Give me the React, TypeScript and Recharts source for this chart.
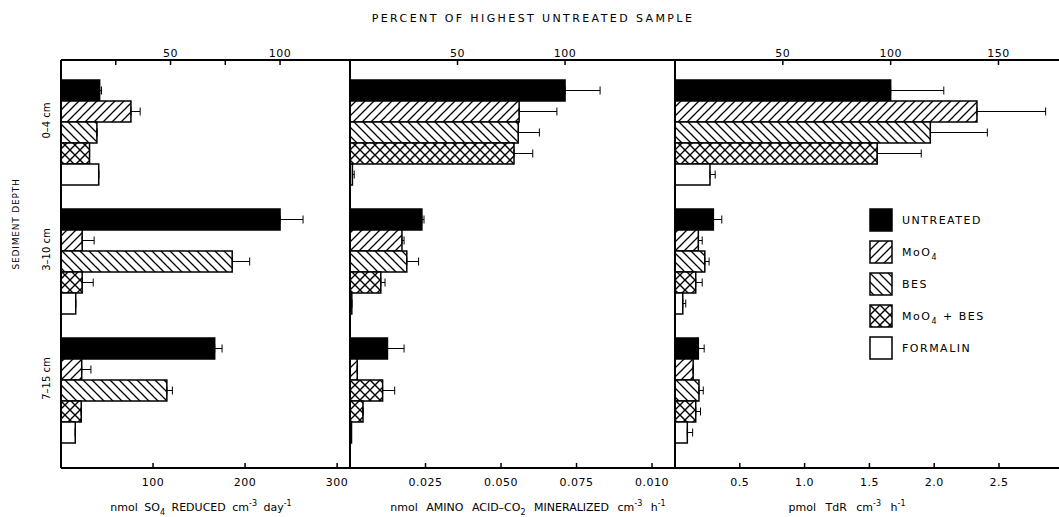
import React from 'react';
import { BarChart, Bar, XAxis, YAxis, ErrorBar, Cell } from 'recharts';

// depth categories
const DEPTHS = ['0–4 cm', '3–10 cm', '7–15 cm'];

// treatments (order = bar order inside a depth group)
const TREATMENTS = ['untreated', 'moo4', 'bes', 'mooBes', 'formalin'];

// panel 1: nmol SO4 reduced cm-3 day-1
const SO4_UNTREATED = [42, 238, 167];
const SO4_MOO4 = [76, 23, 22.5];
const SO4_BES = [39, 186, 115];
const SO4_MOO4_BES = [31, 23, 22];
const SO4_FORMALIN = [41, 16, 15.5];
const SO4_UNTREATED_ERR = [2, 25, 8];
const SO4_MOO4_ERR = [10, 13, 10];
const SO4_BES_ERR = [0, 19, 6];
const SO4_MOO4_BES_ERR = [0, 12, 0];
const SO4_FORMALIN_ERR = [0, 0, 0];

// panel 2: nmol amino acid-CO2 mineralized cm-3 h-1
const AA_UNTREATED = [0.0712, 0.0238, 0.0124];
const AA_MOO4 = [0.056, 0.0172, 0.0024];
const AA_BES = [0.0557, 0.0188, 0.0108];
const AA_MOO4_BES = [0.0543, 0.0102, 0.0043];
const AA_FORMALIN = [0.0008, 0.0006, 0.0005];
const AA_UNTREATED_ERR = [0.0116, 0.0007, 0.0055];
const AA_MOO4_ERR = [0.0125, 0.0007, 0];
const AA_BES_ERR = [0.007, 0.0039, 0.004];
const AA_MOO4_BES_ERR = [0.0062, 0.0014, 0];
const AA_FORMALIN_ERR = [0.0006, 0, 0];

// panel 3: pmol TdR cm-3 h-1
const TDR_UNTREATED = [1.664, 0.296, 0.18];
const TDR_MOO4 = [2.33, 0.18, 0.14];
const TDR_BES = [1.97, 0.23, 0.185];
const TDR_MOO4_BES = [1.56, 0.16, 0.16];
const TDR_FORMALIN = [0.27, 0.06, 0.095];
const TDR_UNTREATED_ERR = [0.41, 0.065, 0.045];
const TDR_MOO4_ERR = [0.53, 0.03, 0];
const TDR_BES_ERR = [0.44, 0.033, 0.033];
const TDR_MOO4_BES_ERR = [0.34, 0.05, 0.037];
const TDR_FORMALIN_ERR = [0.04, 0.023, 0.041];

// tick values and labels
const SO4_TICKS = [100, 200, 300];
const SO4_TICK_LABELS = ['100', '200', '300'];
const AA_TICKS = [0.025, 0.05, 0.075, 0.1];
const AA_TICK_LABELS = ['0.025', '0.050', '0.075', '0.010'];
const TDR_TICKS = [0.5, 1, 1.5, 2, 2.5];
const TDR_TICK_LABELS = ['0.5', '1.0', '1.5', '2.0', '2.5'];
const PCT_TICKS_1 = [25, 50, 75, 100];
const PCT_LABELS_1 = ['', '50', '', '100'];
const PCT_TICKS_2 = [50, 100];
const PCT_LABELS_2 = ['50', '100'];
const PCT_TICKS_3 = [50, 100, 150];
const PCT_LABELS_3 = ['50', '100', '150'];

const FILLS: Record<string, string> = {
  untreated: '#000',
  moo4: 'url(#hatchFwd)',
  bes: 'url(#hatchBack)',
  mooBes: 'url(#crossHatch)',
  formalin: '#fff',
};

const FONT = '"DejaVu Sans", sans-serif';

function buildRows(vals: number[][], errs: number[][]) {
  return DEPTHS.map((depth, i) => {
    const row: Record<string, any> = { depth };
    TREATMENTS.forEach((t, j) => {
      row[t] = vals[j][i];
      row[t + 'Err'] = [0, errs[j][i]];
    });
    return row;
  });
}

const PANELS = [
  {
    id: 'so4',
    left: 0,
    width: 360,
    yWidth: 61,
    marginLeft: 0,
    marginRight: 10,
    absMax: 314,
    absTicks: SO4_TICKS,
    absLabels: SO4_TICK_LABELS,
    pctTicks: PCT_TICKS_1,
    pctLabels: PCT_LABELS_1,
    maxUntreated: Math.max(...SO4_UNTREATED),
    rows: buildRows(
      [SO4_UNTREATED, SO4_MOO4, SO4_BES, SO4_MOO4_BES, SO4_FORMALIN],
      [SO4_UNTREATED_ERR, SO4_MOO4_ERR, SO4_BES_ERR, SO4_MOO4_BES_ERR, SO4_FORMALIN_ERR]
    ),
    showDepths: true,
  },
  {
    id: 'aa',
    left: 340,
    width: 345,
    yWidth: 10,
    marginLeft: 0,
    marginRight: 10,
    absMax: 0.1076,
    absTicks: AA_TICKS,
    absLabels: AA_TICK_LABELS,
    pctTicks: PCT_TICKS_2,
    pctLabels: PCT_LABELS_2,
    maxUntreated: Math.max(...AA_UNTREATED),
    rows: buildRows(
      [AA_UNTREATED, AA_MOO4, AA_BES, AA_MOO4_BES, AA_FORMALIN],
      [AA_UNTREATED_ERR, AA_MOO4_ERR, AA_BES_ERR, AA_MOO4_BES_ERR, AA_FORMALIN_ERR]
    ),
    showDepths: false,
    // the 7-15 cm BES bar is printed cross-hatched in the original
    overrides: { bes: { 2: 'url(#crossHatch)' } } as Record<string, Record<number, string>>,
  },
  {
    id: 'tdr',
    left: 665,
    width: 394,
    yWidth: 10,
    marginLeft: 0,
    marginRight: 0,
    absMax: 2.963,
    absTicks: TDR_TICKS,
    absLabels: TDR_TICK_LABELS,
    pctTicks: PCT_TICKS_3,
    pctLabels: PCT_LABELS_3,
    maxUntreated: Math.max(...TDR_UNTREATED),
    rows: buildRows(
      [TDR_UNTREATED, TDR_MOO4, TDR_BES, TDR_MOO4_BES, TDR_FORMALIN],
      [TDR_UNTREATED_ERR, TDR_MOO4_ERR, TDR_BES_ERR, TDR_MOO4_BES_ERR, TDR_FORMALIN_ERR]
    ),
    showDepths: false,
  },
];

function makeTick(side: 'top' | 'bottom', ticks: number[], labels: string[]) {
  return (props: any) => {
    const { x, y, payload } = props;
    const idx = ticks.findIndex((t) => Math.abs(t - payload.value) < 1e-9);
    const label = idx >= 0 ? labels[idx] : '';
    const dir = side === 'top' ? 1 : -1;
    return (
      <g>
        <line x1={x} x2={x} y1={y} y2={y + dir * 5} stroke="#000" strokeWidth={1.5} />
        {label && (
          <text
            x={x}
            y={side === 'top' ? y - 3 : y + 18}
            textAnchor="middle"
            fontSize={11}
            fontFamily={FONT}
            letterSpacing={0.5}
            fill="#000"
          >
            {label}
          </text>
        )}
      </g>
    );
  };
}

const DepthTick = (props: any) => {
  const { y, payload } = props;
  return (
    <text
      transform={`translate(46, ${y - 12}) rotate(-90)`}
      textAnchor="middle"
      dominantBaseline="central"
      fontSize={10}
      fontFamily={FONT}
      fill="#000"
    >
      {payload.value}
    </text>
  );
};

function Panel({ p }: { p: (typeof PANELS)[number] }) {
  const pctMax = (p.absMax / p.maxUntreated) * 100;
  const overrides = (p as any).overrides || {};
  return (
    <div style={{ position: 'absolute', left: p.left, top: 0 }}>
      <BarChart
        width={p.width}
        height={517}
        data={p.rows}
        layout="vertical"
        margin={{ top: 30, bottom: 19, left: p.marginLeft, right: p.marginRight }}
        barGap={0}
        barCategoryGap={12}
      >
        <XAxis
          xAxisId="abs"
          type="number"
          orientation="bottom"
          domain={[0, p.absMax]}
          allowDataOverflow
          ticks={p.absTicks}
          height={30}
          tickSize={0}
          tickMargin={0}
          tickLine={false}
          axisLine={{ stroke: '#000', strokeWidth: 2 }}
          tick={makeTick('bottom', p.absTicks, p.absLabels)}
          interval={0}
        />
        <XAxis
          xAxisId="pct"
          type="number"
          orientation="top"
          domain={[0, pctMax]}
          allowDataOverflow
          ticks={p.pctTicks}
          height={30}
          tickSize={0}
          tickMargin={0}
          tickLine={false}
          axisLine={{ stroke: '#000', strokeWidth: 2 }}
          tick={makeTick('top', p.pctTicks, p.pctLabels)}
          interval={0}
        />
        <YAxis
          type="category"
          dataKey="depth"
          width={p.yWidth}
          padding={{ top: 8, bottom: 13 }}
          tickLine={false}
          axisLine={{ stroke: '#000', strokeWidth: 2 }}
          tick={p.showDepths ? <DepthTick /> : false}
        />
        {TREATMENTS.map((t) => (
          <Bar
            key={t}
            xAxisId="abs"
            dataKey={t}
            fill={FILLS[t]}
            stroke="#000"
            strokeWidth={1.5}
            isAnimationActive={false}
          >
            {overrides[t] &&
              p.rows.map((_, i) => (
                <Cell key={i} fill={overrides[t][i] ?? FILLS[t]} />
              ))}
            <ErrorBar
              dataKey={t + 'Err'}
              direction="x"
              width={4}
              stroke="#000"
              strokeWidth={1}
              isAnimationActive={false}
            />
          </Bar>
        ))}
      </BarChart>
    </div>
  );
}

const LEGEND = [
  { key: 'untreated', label: 'UNTREATED', sub: '' },
  { key: 'moo4', label: 'MoO', sub: '4' },
  { key: 'bes', label: 'BES', sub: '' },
  { key: 'mooBes', label: 'MoO', sub: '4', after: '  + BES' },
  { key: 'formalin', label: 'FORMALIN', sub: '' },
];

export default function App() {
  return (
    <div style={{ position: 'relative', width: 1059, height: 517, background: '#fff', overflow: 'hidden' }}>
      <style>{'body{margin:0;}'}</style>
      <svg width={0} height={0} style={{ position: 'absolute' }}>
        <defs>
          <pattern id="hatchFwd" patternUnits="userSpaceOnUse" width={9} height={9}>
            <rect width={9} height={9} fill="#fff" />
            <path d="M-1,1 l2,-2 M0,9 l9,-9 M8,10 l2,-2" stroke="#000" strokeWidth={1.3} />
          </pattern>
          <pattern id="hatchBack" patternUnits="userSpaceOnUse" width={9} height={9}>
            <rect width={9} height={9} fill="#fff" />
            <path d="M-1,8 l2,2 M0,0 l9,9 M8,-1 l2,2" stroke="#000" strokeWidth={1.3} />
          </pattern>
          <pattern id="crossHatch" patternUnits="userSpaceOnUse" width={10} height={10}>
            <rect width={10} height={10} fill="#fff" />
            <path d="M0,0 L10,10 M10,0 L0,10" stroke="#000" strokeWidth={1.4} />
          </pattern>
        </defs>
      </svg>

      {PANELS.map((p) => (
        <Panel key={p.id} p={p} />
      ))}

      <svg
        width={1059}
        height={517}
        style={{ position: 'absolute', left: 0, top: 0, pointerEvents: 'none' }}
        fontFamily={FONT}
      >
        <text x={533} y={22} textAnchor="middle" fontSize={11} letterSpacing={2.4}>
          PERCENT OF HIGHEST UNTREATED SAMPLE
        </text>
        <text
          transform="translate(16, 224) rotate(-90)"
          textAnchor="middle"
          dominantBaseline="central"
          fontSize={9}
          letterSpacing={0.8}
        >
          SEDIMENT DEPTH
        </text>

        <text x={201} y={511} textAnchor="middle" fontSize={11} wordSpacing={3}>
          nmol SO<tspan dy={4} fontSize={8}>4</tspan>
          <tspan dy={-4}> REDUCED cm</tspan>
          <tspan dy={-5} fontSize={8}>-3</tspan>
          <tspan dy={5}> day</tspan>
          <tspan dy={-5} fontSize={8}>-1</tspan>
        </text>
        <text x={528} y={511} textAnchor="middle" fontSize={11} wordSpacing={5}>
          nmol AMINO ACID–CO<tspan dy={4} fontSize={8}>2</tspan>
          <tspan dy={-4}> MINERALIZED cm</tspan>
          <tspan dy={-5} fontSize={8}>-3</tspan>
          <tspan dy={5}> h</tspan>
          <tspan dy={-5} fontSize={8}>-1</tspan>
        </text>
        <text x={847} y={511} textAnchor="middle" fontSize={11} wordSpacing={6}>
          pmol TdR cm<tspan dy={-5} fontSize={8}>-3</tspan>
          <tspan dy={5}> h</tspan>
          <tspan dy={-5} fontSize={8}>-1</tspan>
        </text>

        {LEGEND.map((item, i) => (
          <g key={item.key} transform={`translate(870, ${209 + i * 32})`}>
            <rect x={0} y={0} width={22} height={22} fill={FILLS[item.key]} stroke="#000" strokeWidth={1.5} />
            <text x={32} y={15} fontSize={11} letterSpacing={1.5}>
              {item.label}
              {item.sub && (
                <tspan dy={4} fontSize={8}>
                  {item.sub}
                </tspan>
              )}
              {item.after && <tspan dy={-4}>{item.after}</tspan>}
            </text>
          </g>
        ))}
      </svg>
    </div>
  );
}
